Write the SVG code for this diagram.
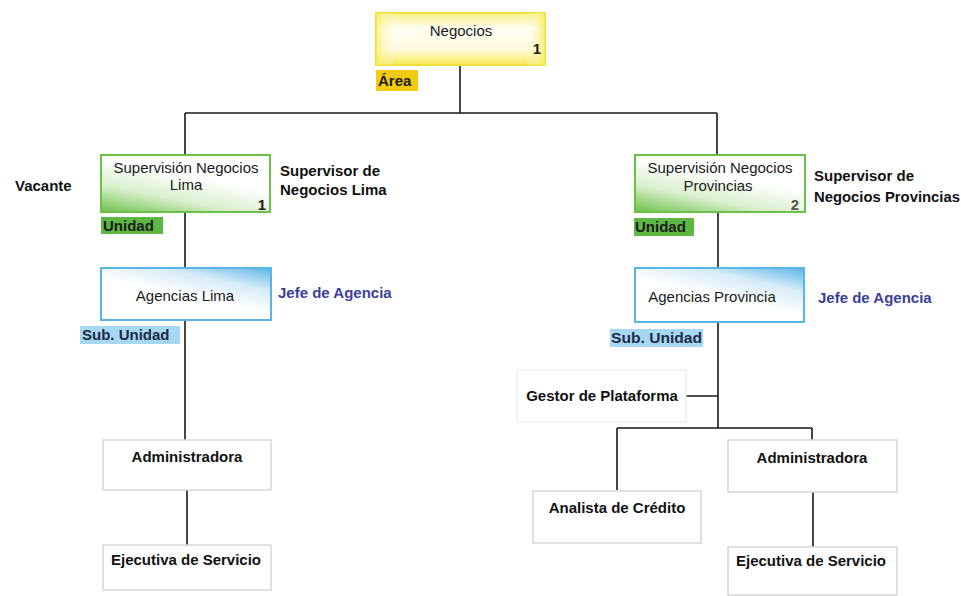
<svg xmlns="http://www.w3.org/2000/svg" width="961" height="596" viewBox="0 0 961 596">
  <defs>
    <linearGradient id="gYellow" x1="0" y1="0" x2="0" y2="1">
      <stop offset="0" stop-color="#f9f08a"/>
      <stop offset="0.3" stop-color="#fffef2"/>
      <stop offset="0.7" stop-color="#fffbe0"/>
      <stop offset="1" stop-color="#f6ea55"/>
    </linearGradient>
    <linearGradient id="gYellowSide" x1="0" y1="0" x2="1" y2="0">
      <stop offset="0" stop-color="#f6ea55" stop-opacity="0.7"/>
      <stop offset="0.12" stop-color="#ffffff" stop-opacity="0"/>
      <stop offset="0.88" stop-color="#ffffff" stop-opacity="0"/>
      <stop offset="1" stop-color="#f6ea55" stop-opacity="0.8"/>
    </linearGradient>
    <linearGradient id="gGreen" x1="0" y1="1" x2="0.6" y2="0">
      <stop offset="0" stop-color="#6cc04a"/>
      <stop offset="0.35" stop-color="#d8efcc"/>
      <stop offset="0.7" stop-color="#ffffff"/>
      <stop offset="1" stop-color="#ffffff"/>
    </linearGradient>
    <linearGradient id="gBlue" x1="1" y1="0" x2="0.3" y2="1">
      <stop offset="0" stop-color="#5ab4e6"/>
      <stop offset="0.3" stop-color="#d6ecf8"/>
      <stop offset="0.6" stop-color="#ffffff"/>
      <stop offset="1" stop-color="#ffffff"/>
    </linearGradient>
    <style>
      .t { font-family: "Liberation Sans", Arial, sans-serif; font-size: 15px; fill: #1a1a1a; text-anchor: middle; }
      .n { font-family: "Liberation Sans", Arial, sans-serif; font-size: 15px; font-weight: bold; fill: #111; }
      .b { font-family: "Liberation Sans", Arial, sans-serif; font-size: 15px; font-weight: bold; fill: #111; text-anchor: middle; }
      .blue { font-family: "Liberation Sans", Arial, sans-serif; font-size: 15px; font-weight: bold; fill: #3a3f9c; }
      .lbl { font-family: "Liberation Sans", Arial, sans-serif; font-size: 15px; font-weight: bold; fill: #1b1b1b; }
      .plain { fill: #ffffff; stroke: #d6d6d6; stroke-width: 1.5; }
      .conn { stroke: #1a1a1a; stroke-width: 1.6; fill: none; }
    </style>
  </defs>
  <rect width="961" height="596" fill="#ffffff"/>

  <!-- connectors -->
  <g id="connectors" class="conn">
    <path d="M460 65 V113 M185 113 H717 M185 113 V155 M717 113 V155"/>
    <path d="M185 212 V268 M185 320 V440 M187 490 V545"/>
    <path d="M718 212 V268 M718 322 V428 M686 396 H718 M617 428 H812 M617 428 V490 M812 428 V440 M813 492 V547"/>
  </g>

  <g id="negocios">
    <rect x="376" y="13" width="169" height="52" fill="url(#gYellow)" stroke="#efe23a" stroke-width="2"/>
    <rect x="376" y="13" width="169" height="52" fill="url(#gYellowSide)"/>
    <text class="t" x="461" y="36">Negocios</text>
    <text class="t" x="537" y="54" style="font-weight:bold">1</text>
    <rect x="376" y="70" width="42" height="21" fill="#f3cb12"/>
    <text class="lbl" x="378" y="86">Área</text>
  </g>

  <g id="sup-lima">
    <rect x="101" y="155" width="169" height="57" fill="url(#gGreen)" stroke="#6cc04a" stroke-width="2"/>
    <text class="t" x="186" y="173">Supervisión Negocios</text>
    <text class="t" x="186" y="190">Lima</text>
    <text class="t" x="262" y="210" style="font-weight:bold">1</text>
    <rect x="101" y="217" width="62" height="17" fill="#5db743"/>
    <text class="lbl" x="103" y="231">Unidad</text>
    <text class="n" x="15" y="191">Vacante</text>
    <text class="n" x="280" y="176">Supervisor de</text>
    <text class="n" x="280" y="195">Negocios Lima</text>
  </g>

  <g id="sup-provincias">
    <rect x="635" y="155" width="170" height="57" fill="url(#gGreen)" stroke="#6cc04a" stroke-width="2"/>
    <text class="t" x="720" y="173">Supervisión Negocios</text>
    <text class="t" x="718" y="191">Provincias</text>
    <text class="t" x="795" y="210" style="font-weight:bold;fill:#555">2</text>
    <rect x="634" y="218" width="60" height="18" fill="#5db743"/>
    <text class="lbl" x="635" y="232">Unidad</text>
    <text class="n" x="814" y="181">Supervisor de</text>
    <text class="n" x="814" y="202" textLength="146" lengthAdjust="spacingAndGlyphs">Negocios Provincias</text>
  </g>

  <g id="agencias-lima">
    <rect x="101" y="268" width="170" height="52" fill="url(#gBlue)" stroke="#5ab4e6" stroke-width="2"/>
    <text class="t" x="185" y="301">Agencias Lima</text>
    <text class="blue" x="278" y="298">Jefe de Agencia</text>
    <rect x="80" y="326" width="100" height="18" fill="#a6d8f2"/>
    <text class="lbl" x="82" y="340" style="fill:#1f2a44">Sub. Unidad</text>
  </g>

  <g id="agencias-provincia">
    <rect x="635" y="268" width="169" height="54" fill="url(#gBlue)" stroke="#5ab4e6" stroke-width="2"/>
    <text class="t" x="712" y="302">Agencias Provincia</text>
    <text class="blue" x="818" y="303">Jefe de Agencia</text>
    <rect x="610" y="329" width="93" height="18" fill="#a6d8f2"/>
    <text class="lbl" x="611" y="343" style="fill:#1f2a44" textLength="91" lengthAdjust="spacingAndGlyphs">Sub. Unidad</text>
  </g>

  <g id="gestor">
    <rect x="517" y="370" width="169" height="52" fill="#ffffff" stroke="#ececec" stroke-width="1.2"/>
    <text class="b" x="602" y="401">Gestor de Plataforma</text>
  </g>

  <g id="admin-lima">
    <rect x="103" y="440" width="168" height="50" class="plain"/>
    <text class="b" x="187" y="462">Administradora</text>
  </g>

  <g id="ejecutiva-lima">
    <rect x="103" y="545" width="168" height="45" class="plain"/>
    <text class="b" x="186" y="565">Ejecutiva de Servicio</text>
  </g>

  <g id="analista">
    <rect x="533" y="491" width="168" height="52" class="plain"/>
    <text class="b" x="617" y="513">Analista de Crédito</text>
  </g>

  <g id="admin-provincia">
    <rect x="728" y="440" width="169" height="52" class="plain"/>
    <text class="b" x="812" y="463">Administradora</text>
  </g>

  <g id="ejecutiva-provincia">
    <rect x="728" y="547" width="169" height="48" class="plain"/>
    <text class="b" x="811" y="566">Ejecutiva de Servicio</text>
  </g>
</svg>
